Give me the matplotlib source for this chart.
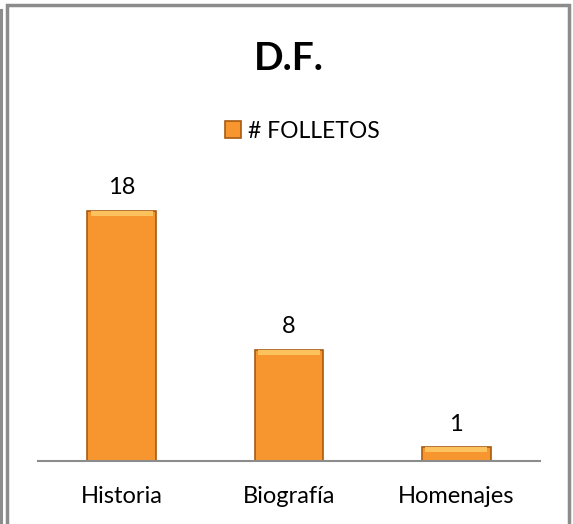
import matplotlib
matplotlib.use("Agg")
import matplotlib.pyplot as plt
from matplotlib.patches import Rectangle

categories = ["Historia", "Biografía", "Homenajes"]
folletos = [18, 8, 1]
series_name = "# FOLLETOS"
title = "D.F."

plt.rcParams["font.family"] = ["Lato", "DejaVu Sans"]

W, H = 573, 524
fig = plt.figure(figsize=(W / 100, H / 100), dpi=100)

# outer chart frame
fig.patches.append(Rectangle((7 / W, -0.02), (569 - 7) / W, 1 - 5 / H + 0.02,
                             transform=fig.transFigure, fill=False,
                             edgecolor="#8c8c8c", linewidth=2.5))
fig.patches.append(Rectangle((1 / W, -0.02), 0.001, 1.0,
                             transform=fig.transFigure, fill=False,
                             edgecolor="#8c8c8c", linewidth=1.5))

ax = fig.add_axes([38 / W, (H - 461) / H, 502 / W, 278 / H])
x = range(len(categories))
bars = ax.bar(x, folletos, width=0.41, color="#F7962F",
              edgecolor="#A85A12", linewidth=1.2, label=series_name, zorder=2)
# lighter top bevel
for b in bars:
    ax.bar(b.get_x() + b.get_width() / 2, 0.35, bottom=b.get_height() - 0.35,
           width=b.get_width() * 0.9, color="#FBC25E", linewidth=0, zorder=3)

for xi, v in zip(x, folletos):
    ax.text(xi, v + 0.9, str(v), ha="center", va="bottom", fontsize=17)

ax.set_xlim(-0.5, 2.5)
ax.set_ylim(0, 20)
ax.set_yticks([])
ax.set_xticks(list(x))
ax.set_xticklabels(categories, fontsize=17)
ax.tick_params(axis="x", length=0, pad=18)
for s in ["top", "right", "left"]:
    ax.spines[s].set_visible(False)
ax.spines["bottom"].set_color("#8c8c8c")
ax.spines["bottom"].set_linewidth(1.5)

fig.text(289 / W, 1 - 58 / H, title, ha="center", va="center",
         fontsize=28, fontweight="bold")
fig.legend(handles=[bars], labels=[series_name], loc="center",
           bbox_to_anchor=(302 / W, 1 - 131 / H), frameon=False,
           fontsize=16.5, handlelength=0.7, handleheight=0.7, handletextpad=0.3)

fig.savefig("out.png", dpi=100)
